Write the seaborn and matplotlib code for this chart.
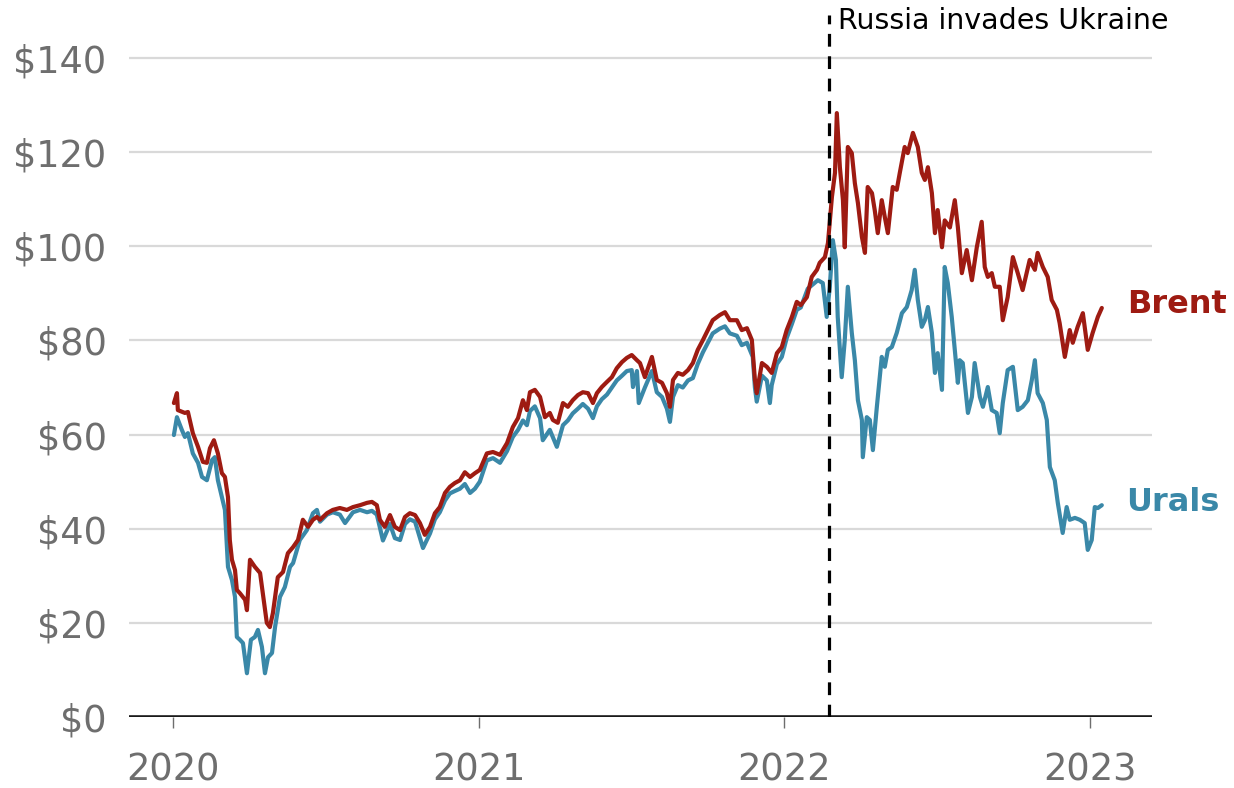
import numpy as np
import pandas as pd
import matplotlib
matplotlib.use("Agg")
import matplotlib.pyplot as plt
import seaborn as sns

# ---------------- data ----------------
brent_t = [2020.003, 2020.013, 2020.016, 2020.039, 2020.049, 2020.065, 2020.082, 2020.098, 2020.111, 2020.121,
           2020.134, 2020.147, 2020.160, 2020.170, 2020.180, 2020.186, 2020.193, 2020.203, 2020.209, 2020.219,
           2020.236, 2020.242, 2020.252, 2020.268, 2020.285, 2020.294, 2020.307, 2020.317, 2020.327, 2020.343,
           2020.360, 2020.376, 2020.393, 2020.409, 2020.425, 2020.442, 2020.458, 2020.471, 2020.481, 2020.504,
           2020.523, 2020.546, 2020.569, 2020.589, 2020.612, 2020.635, 2020.651, 2020.667, 2020.677, 2020.693,
           2020.710, 2020.726, 2020.743, 2020.759, 2020.775, 2020.792, 2020.808, 2020.824, 2020.841, 2020.857,
           2020.873, 2020.890, 2020.906, 2020.922, 2020.939, 2020.955, 2020.972, 2020.988, 2021.004, 2021.027,
           2021.047, 2021.070, 2021.093, 2021.112, 2021.129, 2021.145, 2021.158, 2021.168, 2021.184, 2021.201,
           2021.217, 2021.233, 2021.243, 2021.259, 2021.276, 2021.292, 2021.308, 2021.325, 2021.341, 2021.358,
           2021.374, 2021.387, 2021.403, 2021.420, 2021.436, 2021.452, 2021.469, 2021.485, 2021.501, 2021.518,
           2021.528, 2021.544, 2021.567, 2021.583, 2021.600, 2021.616, 2021.626, 2021.636, 2021.652, 2021.668,
           2021.685, 2021.701, 2021.717, 2021.734, 2021.750, 2021.766, 2021.789, 2021.806, 2021.822, 2021.845,
           2021.861, 2021.878, 2021.894, 2021.904, 2021.910, 2021.927, 2021.943, 2021.959, 2021.976, 2021.992,
           2022.008, 2022.025, 2022.041, 2022.054, 2022.074, 2022.090, 2022.107, 2022.116, 2022.133, 2022.143,
           2022.156, 2022.166, 2022.172, 2022.182, 2022.192, 2022.198, 2022.208, 2022.221, 2022.231, 2022.241,
           2022.254, 2022.264, 2022.273, 2022.287, 2022.296, 2022.306, 2022.319, 2022.329, 2022.339, 2022.355,
           2022.368, 2022.378, 2022.394, 2022.404, 2022.421, 2022.437, 2022.450, 2022.460, 2022.470, 2022.483,
           2022.493, 2022.502, 2022.516, 2022.525, 2022.542, 2022.558, 2022.568, 2022.581, 2022.597, 2022.614,
           2022.630, 2022.646, 2022.656, 2022.666, 2022.679, 2022.689, 2022.705, 2022.715, 2022.731, 2022.748,
           2022.764, 2022.780, 2022.803, 2022.820, 2022.829, 2022.846, 2022.862, 2022.875, 2022.892, 2022.901,
           2022.918, 2022.934, 2022.944, 2022.960, 2022.977, 2022.993, 2023.009, 2023.026, 2023.039]
brent_usd = [66.7, 68.8, 65.2, 64.6, 64.8, 60.3, 57.4, 54.2, 54.0, 57.1,
             58.8, 56.0, 51.8, 51.0, 46.7, 37.6, 33.4, 31.2, 27.0, 26.3,
             24.9, 22.7, 33.4, 31.9, 30.6, 26.3, 20.0, 19.1, 22.1, 29.7,
             30.8, 34.8, 36.1, 37.6, 41.9, 40.4, 41.9, 42.5, 41.9, 43.3,
             44.0, 44.4, 44.0, 44.6, 45.0, 45.5, 45.7, 45.0, 41.9, 40.4,
             42.9, 40.4, 39.7, 42.5, 43.3, 42.9, 41.2, 38.7, 40.4, 43.3,
             44.6, 47.6, 48.9, 49.7, 50.3, 52.0, 51.0, 51.8, 52.5, 56.0,
             56.3, 55.7, 58.2, 61.6, 63.5, 67.3, 65.2, 69.0, 69.5, 68.0,
             63.7, 64.6, 63.1, 62.5, 66.7, 65.9, 67.3, 68.4, 69.0, 68.8,
             66.7, 68.8, 70.1, 71.2, 72.2, 74.1, 75.4, 76.3, 76.9, 75.8,
             75.2, 72.2, 76.5, 71.6, 71.0, 68.8, 65.9, 71.6, 73.1, 72.7,
             73.7, 75.2, 78.0, 80.1, 82.2, 84.3, 85.4, 86.0, 84.3, 84.3,
             82.2, 82.6, 80.1, 71.6, 68.8, 75.2, 74.4, 73.1, 77.3, 78.6,
             82.2, 85.0, 88.2, 87.5, 89.2, 93.5, 95.0, 96.5, 97.7, 100.7,
             110.5, 115.6, 128.3, 116.8, 109.8, 99.8, 121.1, 119.8, 113.4, 109.2,
             102.0, 98.6, 112.6, 111.3, 107.7, 102.8, 109.8, 106.2, 102.8, 112.6,
             112.0, 115.6, 121.1, 119.8, 124.1, 121.1, 115.6, 114.1, 116.8, 111.3,
             102.8, 107.7, 99.8, 105.5, 104.0, 109.8, 104.1, 94.3, 99.2, 92.8,
             99.8, 105.2, 95.6, 93.5, 94.3, 91.4, 91.4, 84.3, 89.2, 97.7,
             94.3, 90.7, 97.1, 95.0, 98.6, 95.6, 93.5, 88.6, 86.5, 83.7,
             76.5, 82.2, 79.5, 82.9, 85.8, 78.0, 81.6, 85.0, 86.9]

urals_t = [2020.003, 2020.013, 2020.029, 2020.039, 2020.049, 2020.065, 2020.082, 2020.095, 2020.111, 2020.128,
           2020.137, 2020.147, 2020.160, 2020.170, 2020.180, 2020.193, 2020.203, 2020.209, 2020.219, 2020.229,
           2020.242, 2020.255, 2020.268, 2020.278, 2020.291, 2020.301, 2020.311, 2020.324, 2020.334, 2020.350,
           2020.366, 2020.383, 2020.393, 2020.415, 2020.438, 2020.458, 2020.471, 2020.481, 2020.504, 2020.523,
           2020.546, 2020.563, 2020.589, 2020.612, 2020.635, 2020.651, 2020.667, 2020.687, 2020.710, 2020.726,
           2020.743, 2020.759, 2020.775, 2020.792, 2020.818, 2020.841, 2020.857, 2020.873, 2020.890, 2020.906,
           2020.922, 2020.939, 2020.955, 2020.972, 2020.988, 2021.004, 2021.027, 2021.047, 2021.070, 2021.093,
           2021.112, 2021.129, 2021.145, 2021.158, 2021.168, 2021.184, 2021.201, 2021.210, 2021.233, 2021.256,
           2021.276, 2021.292, 2021.308, 2021.325, 2021.341, 2021.358, 2021.374, 2021.387, 2021.403, 2021.420,
           2021.436, 2021.452, 2021.469, 2021.485, 2021.501, 2021.505, 2021.518, 2021.524, 2021.544, 2021.567,
           2021.583, 2021.600, 2021.616, 2021.626, 2021.636, 2021.652, 2021.668, 2021.685, 2021.701, 2021.717,
           2021.734, 2021.750, 2021.766, 2021.789, 2021.806, 2021.822, 2021.845, 2021.861, 2021.878, 2021.897,
           2021.904, 2021.910, 2021.927, 2021.943, 2021.953, 2021.959, 2021.976, 2021.992, 2022.008, 2022.025,
           2022.041, 2022.054, 2022.077, 2022.110, 2022.126, 2022.139, 2022.149, 2022.159, 2022.169, 2022.175,
           2022.188, 2022.198, 2022.208, 2022.221, 2022.231, 2022.241, 2022.254, 2022.257, 2022.270, 2022.280,
           2022.290, 2022.303, 2022.319, 2022.329, 2022.339, 2022.352, 2022.368, 2022.385, 2022.401, 2022.417,
           2022.427, 2022.437, 2022.450, 2022.460, 2022.470, 2022.483, 2022.493, 2022.502, 2022.516, 2022.525,
           2022.535, 2022.548, 2022.558, 2022.568, 2022.574, 2022.584, 2022.601, 2022.614, 2022.623, 2022.640,
           2022.650, 2022.666, 2022.679, 2022.695, 2022.705, 2022.715, 2022.731, 2022.748, 2022.764, 2022.780,
           2022.797, 2022.810, 2022.820, 2022.829, 2022.846, 2022.859, 2022.869, 2022.885, 2022.895, 2022.911,
           2022.924, 2022.934, 2022.951, 2022.967, 2022.983, 2022.993, 2023.006, 2023.016, 2023.026, 2023.039]
urals_usd = [59.9, 63.7, 61.0, 59.5, 60.3, 56.0, 54.0, 51.0, 50.3, 54.6,
             55.2, 50.3, 46.7, 44.0, 31.9, 29.1, 25.5, 17.0, 16.4, 15.7,
             9.3, 16.4, 17.0, 18.5, 14.9, 9.3, 12.7, 13.6, 19.1, 25.5,
             27.6, 31.9, 32.7, 37.6, 39.7, 43.3, 44.0, 41.5, 43.0, 43.5,
             43.0, 41.2, 43.5, 44.0, 43.5, 43.8, 43.0, 37.5, 41.0, 38.0,
             37.6, 41.0, 42.0, 41.5, 35.9, 39.0, 42.0, 43.5, 46.0, 47.5,
             48.0, 48.5, 49.5, 47.6, 48.5, 50.0, 54.5, 55.0, 54.0, 56.5,
             59.5, 61.0, 63.0, 62.0, 65.0, 66.0, 63.5, 58.8, 61.0, 57.4,
             62.0, 63.0, 64.5, 65.5, 66.5, 65.5, 63.5, 66.0, 67.5, 68.5,
             70.0, 71.5, 72.5, 73.5, 73.7, 70.1, 73.5, 66.7, 70.0, 73.5,
             69.0, 68.0, 65.5, 62.7, 68.0, 70.5, 70.0, 71.5, 72.0, 75.0,
             77.5, 79.5, 81.5, 82.5, 83.0, 81.5, 81.0, 79.0, 79.5, 76.5,
             70.0, 67.0, 72.5, 71.5, 66.7, 70.5, 75.0, 76.5, 80.5, 83.5,
             86.5, 87.0, 91.0, 92.8, 92.2, 85.0, 91.4, 101.3, 97.1, 85.0,
             72.2, 80.1, 91.4, 81.6, 75.8, 67.3, 63.1, 55.2, 63.7, 63.1,
             56.7, 65.9, 76.5, 74.4, 78.0, 78.6, 81.6, 85.8, 87.1, 90.7,
             95.0, 88.6, 82.9, 84.3, 87.1, 81.6, 73.1, 77.3, 69.5, 95.6,
             92.2, 85.0, 78.0, 71.0, 75.8, 75.2, 64.6, 68.0, 75.2, 68.0,
             65.9, 70.1, 65.2, 64.6, 60.3, 66.7, 73.7, 74.4, 65.2, 65.9,
             67.3, 71.6, 75.8, 68.8, 66.7, 63.1, 53.1, 50.3, 45.5, 39.1,
             44.6, 41.9, 42.3, 41.9, 41.2, 35.5, 37.6, 44.6, 44.4, 45.0]

series_names = ["Urals", "Brent"]
series_colors = {"Brent": "#9e1b12", "Urals": "#3a88a8"}
y_ticks = [0, 20, 40, 60, 80, 100, 120, 140]
y_tick_labels = ["$0", "$20", "$40", "$60", "$80", "$100", "$120", "$140"]
x_ticks = [2020, 2021, 2022, 2023]
x_tick_labels = ["2020", "2021", "2022", "2023"]
invasion_t = 2022.146
invasion_label = "Russia invades Ukraine"

df = pd.concat([
    pd.DataFrame({"t": urals_t, "price": urals_usd, "series": "Urals"}),
    pd.DataFrame({"t": brent_t, "price": brent_usd, "series": "Brent"}),
], ignore_index=True)

# ---------------- plot ----------------
sns.set_theme(style="white")
plt.rcParams["font.family"] = ["DejaVu Sans"]

fig = plt.figure(figsize=(12.34, 7.88), dpi=100)
ax = fig.add_axes([0.1045, 0.0901, 0.829, 0.896])

for yv in y_ticks[1:]:
    ax.axhline(yv, color="#d9d9d9", lw=1.6, zorder=0)

sns.lineplot(data=df, x="t", y="price", hue="series", hue_order=series_names,
             palette=series_colors, linewidth=3.0, legend=False, ax=ax,
             estimator=None, sort=True, zorder=3)

ax.axhline(0, color="#1a1a1a", lw=2.6, zorder=4)
ax.axvline(invasion_t, ymin=0, ymax=0.994, color="black", lw=2.3,
           dashes=(4, 3), zorder=5)
ax.text(invasion_t + 0.03, 147.8, invasion_label, fontsize=20.5, color="black",
        ha="left", va="center")

ax.text(2023.121, brent_usd[-1] + 0.8, "Brent", fontsize=23, fontweight="bold",
        color=series_colors["Brent"], ha="left", va="center")
ax.text(2023.117, urals_usd[-1] + 0.6, "Urals", fontsize=23, fontweight="bold",
        color=series_colors["Urals"], ha="left", va="center")

ax.set_xlim(2019.856, 2023.203)
ax.set_ylim(0, 150)
ax.set_yticks(y_ticks)
ax.set_yticklabels(y_tick_labels)
ax.set_xticks(x_ticks)
ax.set_xticklabels(x_tick_labels)
ax.set_xlabel("")
ax.set_ylabel("")
for s in ax.spines.values():
    s.set_visible(False)
ax.tick_params(axis="y", length=0, pad=16, labelsize=26.5, labelcolor="#6e6e6e")
ax.tick_params(axis="x", length=8, width=1.0, color="#6e6e6e", direction="out",
               pad=17, labelsize=26.5, labelcolor="#6e6e6e", bottom=True)
ax.grid(False)

fig.savefig("out.png", dpi=100)
